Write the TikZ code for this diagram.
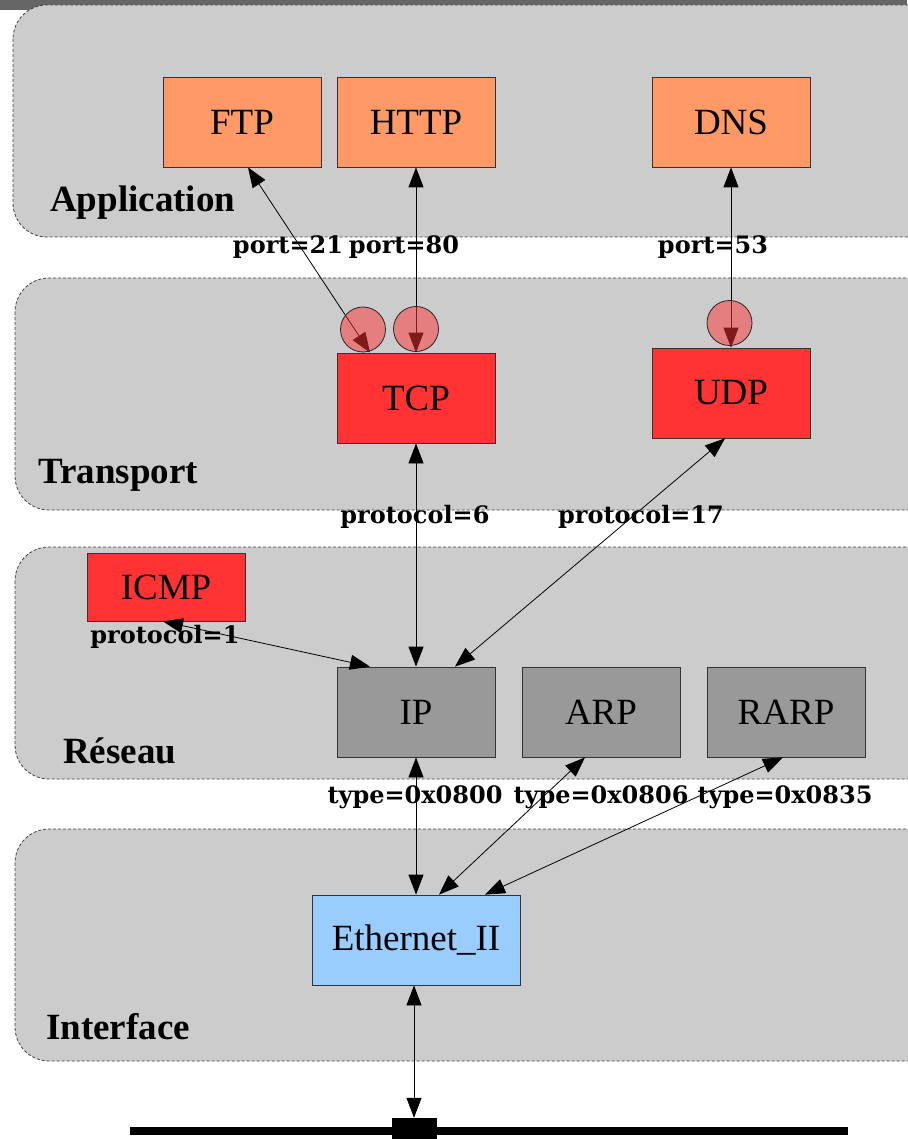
\documentclass[tikz,border=0pt]{standalone}
\usepackage{fontspec}
\setmainfont{Liberation Serif}
\newfontfamily\lblfont{DejaVu Serif}
\usetikzlibrary{arrows.meta}
\definecolor{layerfill}{HTML}{CCCCCC}
\definecolor{appfill}{HTML}{FF9966}
\definecolor{trfill}{HTML}{FF3333}
\definecolor{netfill}{HTML}{999999}
\definecolor{ethfill}{HTML}{99CCFF}
\definecolor{stripfill}{HTML}{666666}
\tikzset{
  layer/.style={fill=layerfill, draw=black!75, dashed, dash pattern=on 3pt off 2pt,
    line width=0.8pt, rounded corners=34pt},
  layername/.style={font=\bfseries\fontsize{37}{40}\selectfont, anchor=base west, inner sep=0pt},
  proto/.style={draw=black!80, line width=0.8pt, inner sep=0pt, minimum width=158pt,
    minimum height=90pt, font=\fontsize{37}{40}\selectfont},
  appbox/.style={proto, fill=appfill},
  trbox/.style={proto, fill=trfill},
  netbox/.style={proto, fill=netfill},
  ethbox/.style={proto, fill=ethfill, minimum width=208pt},
  portc/.style={circle, draw=black!85, line width=0.8pt, fill=trfill, fill opacity=0.5,
    minimum size=45pt, inner sep=0pt},
  elabel/.style={font=\lblfont\bfseries\fontsize{24}{26}\selectfont, inner sep=0pt},
  link/.style={line width=0.8pt, {Triangle[length=20pt,width=15pt]}-{Triangle[length=20pt,width=15pt]}},
}
\begin{document}
\begin{tikzpicture}[x=1pt,y=-1pt]
\useasboundingbox (0,0) rectangle (907,1139);

% strip along the top edge
\fill[stripfill] (0,0) rectangle (907,10);

% layers
\draw[layer] (13,5) rectangle (940,237);
\draw[layer] (15,278) rectangle (940,510);
\draw[layer] (15,547) rectangle (940,779);
\draw[layer] (15,829) rectangle (940,1061);

\node[layername] (lapp) at (50,212) {Application};
\node[layername] (ltr) at (38,483) {Transport};
\node[layername] (lnet) at (63,763) {Réseau};
\node[layername] (lif) at (46,1039) {Interface};

% protocol boxes
\node[appbox] (ftp) at (242,122) {FTP};
\node[appbox] (http) at (416,122) {HTTP};
\node[appbox] (dns) at (731,122) {DNS};
\node[trbox] (tcp) at (416,398) {TCP};
\node[trbox] (udp) at (731,393) {UDP};
\node[trbox, minimum height=68pt] (icmp) at (166,587) {ICMP};
\node[netbox] (ip) at (416,712) {IP};
\node[netbox] (arp) at (601,712) {ARP};
\node[netbox] (rarp) at (786,712) {RARP};
\node[ethbox] (eth) at (416,940) {Ethernet\_II};

% cable
\coordinate (busl) at (130,1131);
\coordinate (busr) at (848,1131);
\draw[line width=8pt] (busl) -- (busr);
\node[fill=black, inner sep=0pt, minimum width=45pt, minimum height=21pt] (bus) at (414,1128.5) {};

% links between layers
\draw[link] ([xshift=6pt]ftp.south) -- ([xshift=-46pt]tcp.north);
\draw[link] (http.south) -- (tcp.north);
\draw[link] (dns.south) -- (udp.north);
\draw[link] (tcp.south) -- (ip.north);
\draw[link] ([xshift=-6pt]udp.south) -- ([xshift=39pt]ip.north);
\draw[link] ([xshift=-3pt]icmp.south) -- ([xshift=-46pt]ip.north);
\draw[link] (ip.south) -- (eth.north);
\draw[link] ([xshift=-16pt]arp.south) -- ([xshift=23pt]eth.north);
\draw[link] ([xshift=-3pt]rarp.south) -- ([xshift=69pt]eth.north);
\draw[link] ([xshift=-2pt]eth.south) -- (bus.north);

% ports
\node[portc] (p21) at (363,329.5) {};
\node[portc] (p80) at (416,329) {};
\node[portc] (p53) at (729.5,323) {};

% link labels
\node[elabel] (l21) at (288,247) {port=21};
\node[elabel] (l80) at (404,247) {port=80};
\node[elabel] (l53) at (713,247) {port=53};
\node[elabel] (l6) at (415,517) {protocol=6};
\node[elabel] (l17) at (641,517) {protocol=17};
\node[elabel] (l1) at (165,637) {protocol=1};
\node[elabel] (t800) at (415,797) {type=0x0800};
\node[elabel] (t806) at (601,797) {type=0x0806};
\node[elabel] (t835) at (785,797) {type=0x0835};
\end{tikzpicture}
\end{document}
